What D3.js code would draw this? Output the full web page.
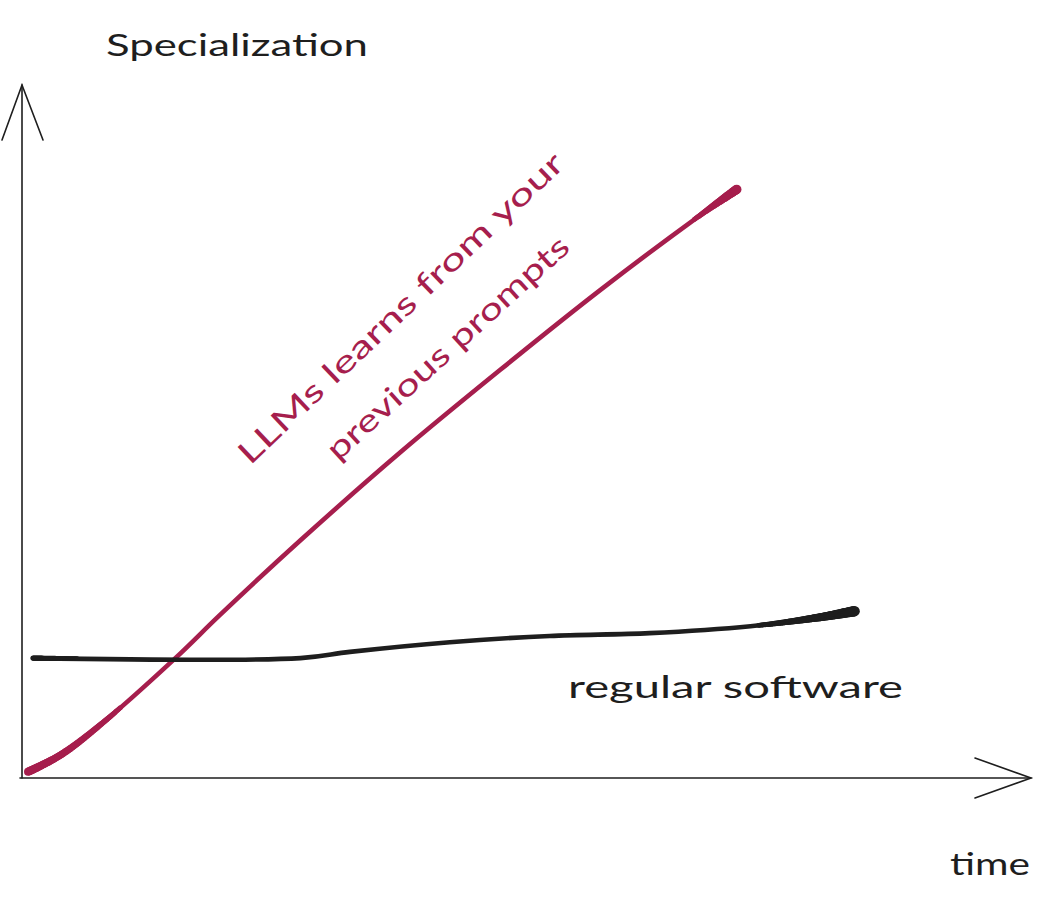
<!DOCTYPE html>
<html><head><meta charset="utf-8">
<script src="https://cdn.jsdelivr.net/npm/d3@7"></script>
<style>body{margin:0;background:#fff}svg{display:block}</style>
</head><body>
<svg id="c" width="1051" height="909"></svg>
<script>
// data (arbitrary units: time 0..100, specialization 0..100)
const llmTime = [0.6, 3.8, 7.7, 15.2, 19.6, 27.6, 37.5, 47.4, 57.3, 67.2, 70.9];
const llmSpec = [0.9, 3.3, 7.6, 17.3, 23.5, 34.3, 47.0, 58.9, 70.4, 81.2, 85.0];
const swTime = [1.1, 27.6, 32.5, 42.4, 52.3, 62.2, 72.2, 79.1, 82.6];
const swSpec = [17.3, 17.3, 18.2, 19.6, 20.5, 20.9, 21.9, 23.2, 24.1];
const yTitle = "Specialization";
const xTitle = "time";
const llmLabel = ["LLMs learns from your", "previous prompts"];
const swLabel = "regular software";

const svg = d3.select("#c");
const x = d3.scaleLinear().domain([0, 100]).range([22, 1031]);
const y = d3.scaleLinear().domain([0, 100]).range([778, 85]);
const ink = "#1e1e1e", pink = "#a61e4d";
const font = "Lato, 'Open Sans', sans-serif";

// axes
const ax = svg.append("g").attr("fill", "none").attr("stroke", ink).attr("stroke-width", 1.6).attr("stroke-linecap", "round");
ax.append("line").attr("x1", x(0)).attr("y1", y(0)).attr("x2", x(0)).attr("y2", y(100));
ax.append("path").attr("d", `M${x(0)-20},${y(100)+55} L${x(0)},${y(100)} L${x(0)+21},${y(100)+55}`);
ax.append("line").attr("x1", x(0)-2).attr("y1", y(0)).attr("x2", x(100)).attr("y2", y(0));
ax.append("path").attr("d", `M${x(100)-56},${y(0)-20} L${x(100)},${y(0)} L${x(100)-56},${y(0)+20}`);

const line = d3.line().x(d => x(d[0])).y(d => y(d[1])).curve(d3.curveCatmullRom);
const llm = llmTime.map((t, i) => [t, llmSpec[i]]);
const sw = swTime.map((t, i) => [t, swSpec[i]]);

// freehand-style stroke: base path plus tapered thickening sampled along the path
function stroke(pts, color, w, startExtra, startLen, endExtra, endLen) {
  const p = svg.append("path").attr("d", line(pts)).attr("fill", "none").attr("stroke", color)
    .attr("stroke-width", w).attr("stroke-linecap", "round").attr("stroke-linejoin", "round");
  const node = p.node(), L = node.getTotalLength();
  const g = svg.append("g").attr("fill", color);
  for (let s = 0; s <= L; s += 1) {
    let extra = 0;
    if (s < startLen) extra = Math.max(extra, startExtra * (1 - s / startLen));
    if (s > L - endLen) { const f = (s - (L - endLen)) / endLen; extra = Math.max(extra, endExtra * Math.pow(f, 1.5)); }
    if (extra > 0.2) {
      const pt = node.getPointAtLength(s);
      g.append("circle").attr("cx", pt.x).attr("cy", pt.y).attr("r", (w + extra) / 2);
    }
  }
}
stroke(llm, pink, 4.6, 3.5, 120, 5, 60);
stroke(sw, ink, 4.6, 0.8, 60, 6, 110);

// texts
const t = svg.append("g").attr("font-family", font).attr("fill", ink);
t.append("text").attr("x", 106).attr("y", 56).attr("font-size", 31).attr("textLength", 262).attr("lengthAdjust", "spacingAndGlyphs").text(yTitle);
t.append("text").attr("x", 950).attr("y", 875).attr("font-size", 31).attr("textLength", 80).attr("lengthAdjust", "spacingAndGlyphs").text(xTitle);
t.append("text").attr("x", 568).attr("y", 698).attr("font-size", 31).attr("textLength", 335).attr("lengthAdjust", "spacingAndGlyphs").text(swLabel);

const lg = svg.append("g").attr("font-family", font).attr("fill", pink).attr("font-size", 31);
lg.append("text").attr("transform", "translate(250,466) rotate(-43.5)").attr("textLength", 436).attr("lengthAdjust", "spacingAndGlyphs").text(llmLabel[0]);
lg.append("text").attr("transform", "translate(338,462) rotate(-42.3)").attr("textLength", 316).attr("lengthAdjust", "spacingAndGlyphs").text(llmLabel[1]);
</script>
</body></html>
